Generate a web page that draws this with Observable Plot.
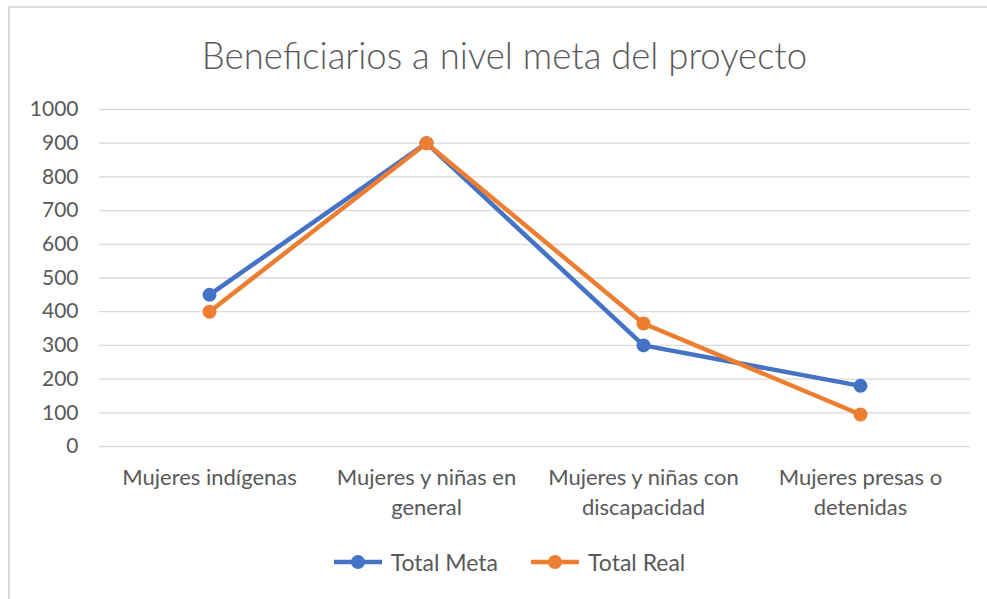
<!DOCTYPE html>
<html>
<head>
<meta charset="utf-8">
<script src="https://cdn.jsdelivr.net/npm/d3@7"></script>
<script src="https://cdn.jsdelivr.net/npm/@observablehq/plot@0.6"></script>
<style>
  html, body { margin: 0; padding: 0; background: #fff; }
  #wrap { position: relative; width: 987px; height: 599px; overflow: hidden; font-family: Lato, "Open Sans", sans-serif; }
  #frame { position: absolute; left: 8px; top: 6px; width: 990px; height: 600px; border-left: 2px solid #d9d9d9; border-top: 2px solid #d9d9d9; box-sizing: border-box; }
  #title { position: absolute; left: 0; width: 1009px; top: 31px; text-align: center; font-size: 36.5px; font-weight: 300; color: #595959; line-height: 48px; }
  #chart { position: absolute; left: 0; top: 90px; }
  #legend { position: absolute; left: 0; width: 1018px; top: 548px; display: flex; justify-content: center; gap: 32px; font-size: 23px; color: #595959; }
  #legend .item { display: flex; align-items: center; gap: 8px; }
</style>
</head>
<body>
<div id="wrap">
  <div id="frame"></div>
  <div id="title"></div>
  <div id="chart"></div>
  <div id="legend"></div>
</div>
<script>
const titleText = "Beneficiarios a nivel meta del proyecto";
const categories = ["Mujeres indígenas", "Mujeres y niñas en general", "Mujeres y niñas con discapacidad", "Mujeres presas o detenidas"];
const categoryLabels = ["Mujeres indígenas", "Mujeres y niñas en\ngeneral", "Mujeres y niñas con\ndiscapacidad", "Mujeres presas o\ndetenidas"];
const totalMeta = [450, 900, 300, 180];
const totalReal = [400, 900, 365, 95];
const yTicks = [0, 100, 200, 300, 400, 500, 600, 700, 800, 900, 1000];
const seriesNames = ["Total Meta", "Total Real"];
const seriesColors = ["#4472C4", "#ED7D31"];

document.getElementById("title").textContent = titleText;

const rows = [];
[totalMeta, totalReal].forEach((vals, s) => {
  vals.forEach((v, i) => rows.push({series: seriesNames[s], cat: categories[i], v}));
});

const chart = Plot.plot({
  width: 987,
  height: 440,
  marginTop: 19,
  marginBottom: 84,
  marginLeft: 99,
  marginRight: 17,
  style: {fontFamily: "Lato, 'Open Sans', sans-serif", fontSize: "21px", color: "#595959", background: "transparent"},
  x: {type: "point", domain: categories, padding: 0.5, label: null},
  y: {domain: [0, 1000], label: null},
  color: {domain: seriesNames, range: seriesColors},
  marks: [
    Plot.gridY(yTicks, {stroke: "#d9d9d9", strokeOpacity: 1, strokeWidth: 1.3}),
    Plot.axisY(yTicks, {tickSize: 0, tickPadding: 21, fontSize: 21, label: null, tickFormat: d => String(d)}),
    Plot.axisX({tickSize: 0, tickPadding: 17, fontSize: 22, lineHeight: 1.36, label: null,
      tickFormat: d => categoryLabels[categories.indexOf(d)]}),
    Plot.lineY(rows, {x: "cat", y: "v", z: "series", stroke: "series", strokeWidth: 4.5, strokeLinejoin: "round"}),
    Plot.dot(rows, {x: "cat", y: "v", fill: "series", r: 7})
  ]
});
document.getElementById("chart").appendChild(chart);

const legend = document.getElementById("legend");
seriesNames.forEach((name, i) => {
  const item = document.createElement("div");
  item.className = "item";
  item.innerHTML = `<svg width="50" height="16"><line x1="1" y1="8" x2="49" y2="8" stroke="${seriesColors[i]}" stroke-width="4.5"/><circle cx="25" cy="8" r="7" fill="${seriesColors[i]}"/></svg><span>${name}</span>`;
  legend.appendChild(item);
});
</script>
</body>
</html>
